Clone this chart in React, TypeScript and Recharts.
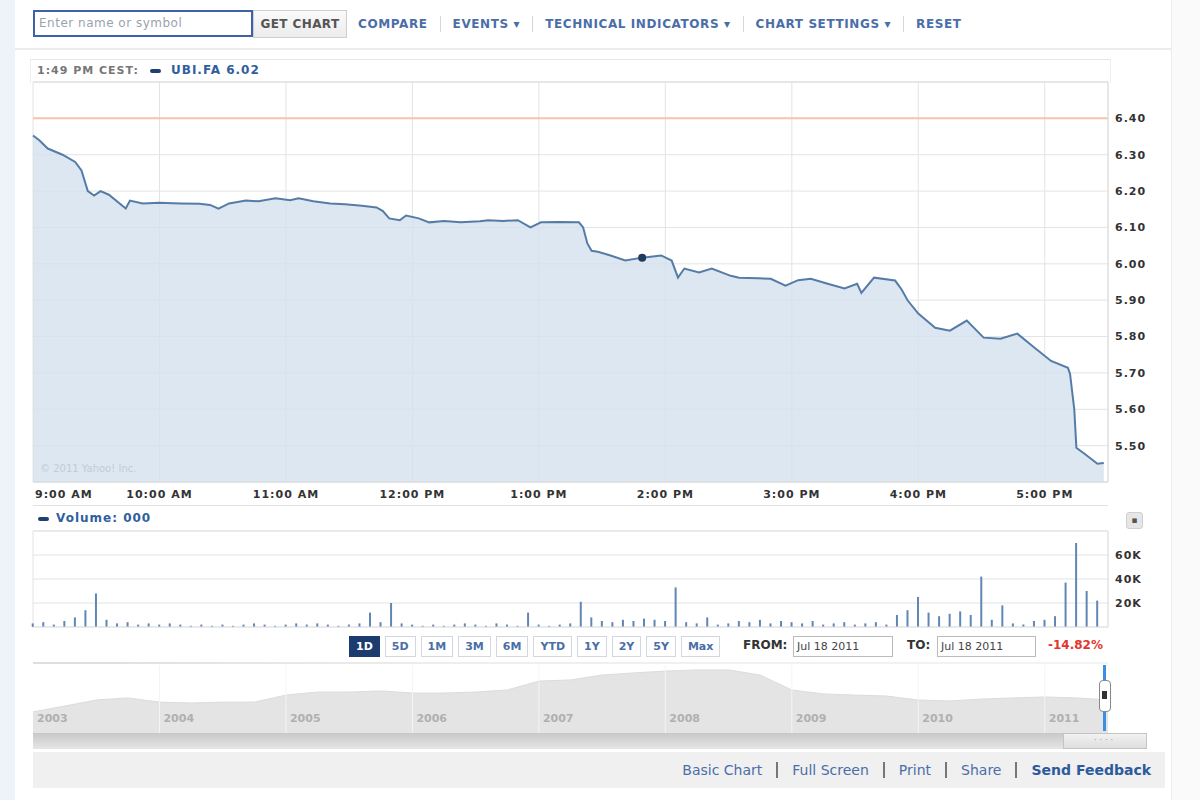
import {
  AreaChart,
  Area,
  BarChart,
  Bar,
  XAxis,
  YAxis,
  CartesianGrid,
  ReferenceLine,
} from "recharts";

// #region Data
// intraday price, minutes after 9:00 AM
const priceTimes = [
  0, 3, 7, 14, 20, 23, 26, 29, 32, 36, 44, 46, 52, 60, 70, 79, 84, 88, 93, 101,
  107, 115, 122, 126, 133, 141, 148, 156, 163, 166, 169, 174, 177, 183, 188,
  195, 203, 212, 216, 223, 230, 236, 241, 249, 259, 261, 263, 265, 268, 274,
  281, 289, 298, 303, 306, 309, 316, 322, 331, 335, 344, 350, 357, 363, 369,
  377, 385, 391, 393, 399, 409, 412, 415, 420, 428, 435, 443, 451, 459, 467,
  475, 483, 491, 492, 494, 495, 499, 505, 508,
];
const priceValues = [
  6.353, 6.34, 6.317, 6.3, 6.28, 6.257, 6.2, 6.188, 6.2, 6.19, 6.152, 6.174,
  6.166, 6.168, 6.166, 6.165, 6.162, 6.152, 6.166, 6.174, 6.172, 6.18, 6.175,
  6.18, 6.172, 6.166, 6.164, 6.16, 6.155, 6.145, 6.125, 6.12, 6.133, 6.125,
  6.114, 6.118, 6.114, 6.117, 6.12, 6.118, 6.12, 6.1, 6.114, 6.115, 6.114, 6.1,
  6.056, 6.036, 6.033, 6.023, 6.009, 6.017, 6.023, 6.009, 5.962, 5.987, 5.976,
  5.987, 5.967, 5.962, 5.96, 5.959, 5.94, 5.955, 5.959, 5.945, 5.932, 5.945,
  5.92, 5.962, 5.954, 5.93, 5.899, 5.863, 5.824, 5.816, 5.844, 5.797, 5.794,
  5.808, 5.77, 5.733, 5.714, 5.697, 5.6, 5.494, 5.477, 5.45, 5.452,
];
const priceTicks = [5.5, 5.6, 5.7, 5.8, 5.9, 6.0, 6.1, 6.2, 6.3, 6.4];
const previousClose = 6.4;
const hoverTime = 289;

const hourTicks = [0, 60, 120, 180, 240, 300, 360, 420, 480];
const hourLabels = [
  "9:00 AM",
  "10:00 AM",
  "11:00 AM",
  "12:00 PM",
  "1:00 PM",
  "2:00 PM",
  "3:00 PM",
  "4:00 PM",
  "5:00 PM",
];

// volume in thousands, 5-minute buckets
const volumeStep = 5;
const volumeValues = [
  3, 4, 2, 5, 8, 14, 28, 6, 3, 4, 2, 3,
  2, 3, 2, 1, 2, 1, 2, 1, 2, 3, 2, 1,
  2, 3, 2, 3, 2, 1, 2, 3, 12, 4, 20, 3,
  2, 1, 2, 1, 2, 3, 2, 1, 3, 2, 1, 12,
  2, 1, 2, 3, 21, 8, 5, 4, 6, 5, 7, 6,
  5, 33, 4, 3, 8, 2, 3, 5, 4, 6, 3, 5,
  4, 3, 5, 2, 3, 4, 2, 3, 4, 2, 10, 14,
  25, 12, 9, 11, 13, 10, 42, 6, 18, 3, 2, 5,
  6, 9, 37, 70, 30, 22,
];
const volumeTicks = [20, 40, 60];

// long-term navigator, quarterly from 2003
const navStart = 2003;
const navValues = [
  9.9, 12.4, 15.0, 15.9, 14.1, 13.7, 14.1, 14.1, 17.1, 18.4, 18.4, 18.9, 18.0,
  18.0, 18.4, 19.3, 23.1, 23.6, 25.7, 26.6, 27.4, 27.9, 27.9, 25.7, 19.3, 17.6,
  17.1, 16.7, 15.0, 14.6, 15.4, 15.9, 16.3, 15.9, 15.0,
];
const navYears = [2003, 2004, 2005, 2006, 2007, 2008, 2009, 2010, 2011];

const toolbarLinks = [
  "COMPARE",
  "EVENTS ▾",
  "TECHNICAL INDICATORS ▾",
  "CHART SETTINGS ▾",
  "RESET",
];
const rangeButtons = ["1D", "5D", "1M", "3M", "6M", "YTD", "1Y", "2Y", "5Y", "Max"];
const footerLinks = ["Basic Chart", "Full Screen", "Print", "Share", "Send Feedback"];
// #endregion

const FONT = '"DejaVu Sans", Verdana, sans-serif';
const LINK = "#4a6ea8";

const priceData = priceTimes.map((t, i) => ({ t, price: priceValues[i] }));
const volumeData = volumeValues.map((v, i) => ({ t: i * volumeStep, volume: v }));
const navData = navValues.map((v, i) => ({ year: navStart + i * 0.25, close: v }));

const HourTick = ({ x, y, payload }: any) => {
  const i = hourTicks.indexOf(payload.value);
  return (
    <text
      x={i === 0 ? x + 2 : x}
      y={y}
      dy="0.71em"
      textAnchor={i === 0 ? "start" : "middle"}
      fontFamily={FONT}
      fontSize={11}
      fontWeight="bold"
      letterSpacing={1}
      fill="#333"
    >
      {hourLabels[i]}
    </text>
  );
};

const axisText = {
  fontFamily: FONT,
  fontSize: 11,
  fontWeight: "bold",
  letterSpacing: 1,
  fill: "#333",
};

const HoverDot = (props: any) =>
  props.payload.t === hoverTime ? (
    <circle key={`dot-${props.index}`} cx={props.cx} cy={props.cy} r={4} fill="#1f3a5c" />
  ) : (
    <g key={`dot-${props.index}`} />
  );

const abs = (left: number, top: number, extra: React.CSSProperties = {}): React.CSSProperties => ({
  position: "absolute",
  left,
  top,
  ...extra,
});

export default function App() {
  return (
    <div
      style={{
        position: "absolute",
        left: 0,
        top: 0,
        width: 1200,
        height: 800,
        background: "#fff",
        overflow: "hidden",
        fontFamily: FONT,
      }}
    >
      {/* page edges */}
      <div style={abs(0, 0, { width: 15, height: 800, background: "#eef2f9" })} />
      <div style={abs(1171, 0, { width: 29, height: 800, background: "#fafafa", borderLeft: "1px solid #ececec" })} />

      {/* toolbar */}
      <div
        style={abs(33, 10, {
          width: 212,
          height: 23,
          border: "2px solid #3d62a9",
          fontSize: 12,
          letterSpacing: 0.5,
          color: "#9aa3ad",
          lineHeight: "23px",
          paddingLeft: 4,
          boxSizing: "content-box",
        })}
      >
        Enter name or symbol
      </div>
      <div
        style={abs(253, 10, {
          width: 92,
          height: 26,
          border: "1px solid #cfcfcf",
          background: "linear-gradient(#fafafa,#ececec)",
          fontSize: 12,
          letterSpacing: 0.4,
          fontWeight: "bold",
          color: "#555",
          lineHeight: "26px",
          textAlign: "center",
        })}
      >
        GET CHART
      </div>
      <div
        style={abs(358, 16, {
          display: "flex",
          alignItems: "center",
          fontSize: 12,
          letterSpacing: 0.6,
          fontWeight: "bold",
          color: LINK,
          whiteSpace: "nowrap",
        })}
      >
        {toolbarLinks.map((l, i) => (
          <span key={l} style={{ display: "flex", alignItems: "center" }}>
            <span>{l}</span>
            {i < toolbarLinks.length - 1 && (
              <span style={{ width: 1, height: 16, background: "#d6d6d6", margin: "0 12px" }} />
            )}
          </span>
        ))}
      </div>
      <div style={abs(15, 48, { width: 1156, height: 2, background: "#ececec" })} />

      {/* price header */}
      <div style={abs(30, 59, { width: 1079, height: 23, borderTop: "1px solid #e6e6e6", borderLeft: "1px solid #eee", borderRight: "1px solid #eee" })} />
      <div style={abs(37, 64, { fontSize: 11, letterSpacing: 1, color: "#777", fontWeight: "bold" })}>1:49 PM CEST:</div>
      <div style={abs(150, 69, { width: 11, height: 4, background: "#1f3f75", borderRadius: 2 })} />
      <div style={abs(171, 63, { fontSize: 12, letterSpacing: 1, color: "#2f5e9e", fontWeight: "bold" })}>UBI.FA 6.02</div>

      {/* price chart */}
      <div style={abs(0, 0)}>
        <AreaChart
          width={1170}
          height={520}
          data={priceData}
          margin={{ top: 82, right: 12, left: 33, bottom: 14 }}
        >
          <CartesianGrid stroke="#e3e3e3" />
          <XAxis
            dataKey="t"
            type="number"
            domain={[0, 510]}
            ticks={hourTicks}
            tick={<HourTick />}
            tickLine={false}
            axisLine={{ stroke: "#d8d8d8" }}
            height={24}
          />
          <YAxis
            orientation="right"
            type="number"
            domain={[5.4, 6.5]}
            ticks={priceTicks}
            tickFormatter={(v: number) => v.toFixed(2)}
            tick={axisText}
            tickLine={false}
            tickSize={0}
            tickMargin={7}
            axisLine={{ stroke: "#dcdcdc" }}
            width={50}
          />
          <ReferenceLine y={6.5} stroke="#dcdcdc" />
          <Area
            type="linear"
            dataKey="price"
            stroke="#557ca6"
            strokeWidth={2}
            fill="#d3e1ee"
            fillOpacity={0.8}
            dot={HoverDot}
            activeDot={false}
            isAnimationActive={false}
          />
          <ReferenceLine y={previousClose} stroke="#f6c4ae" strokeWidth={2} />
        </AreaChart>
      </div>
      <div style={abs(40, 463, { fontSize: 10, color: "#c2ccd6" })}>© 2011 Yahoo! Inc.</div>
      <div style={abs(33, 505, { width: 1075, height: 1, background: "#e2e2e2" })} />

      {/* volume header */}
      <div style={abs(38, 517, { width: 11, height: 4, background: "#1f3f75", borderRadius: 2 })} />
      <div style={abs(56, 511, { fontSize: 12, letterSpacing: 1, color: "#2f5e9e", fontWeight: "bold" })}>Volume: 000</div>
      <div
        style={abs(1126, 512, {
          width: 15,
          height: 15,
          background: "#e6e6e6",
          border: "1px solid #d0d0d0",
          borderRadius: 3,
          fontSize: 9,
          color: "#555",
          textAlign: "center",
          lineHeight: "15px",
        })}
      >
        ▪
      </div>

      {/* volume chart */}
      <div style={abs(0, 520)}>
        <BarChart
          width={1170}
          height={120}
          data={volumeData}
          margin={{ top: 11, right: 12, left: 33, bottom: 12 }}
        >
          <CartesianGrid stroke="#e3e3e3" />
          <XAxis
            dataKey="t"
            type="number"
            domain={[0, 510]}
            ticks={hourTicks}
            tick={false}
            tickLine={false}
            axisLine={{ stroke: "#e3e3e3" }}
            height={1}
          />
          <YAxis
            orientation="right"
            type="number"
            domain={[0, 80]}
            ticks={volumeTicks}
            tickFormatter={(v: number) => `${v}K`}
            tick={axisText}
            tickLine={false}
            tickSize={0}
            tickMargin={7}
            axisLine={{ stroke: "#e3e3e3" }}
            width={50}
          />
          <ReferenceLine y={80} stroke="#e3e3e3" />
          <Bar dataKey="volume" fill="#5f86b5" barSize={2} isAnimationActive={false} />
        </BarChart>
      </div>

      {/* range buttons */}
      <div style={abs(349, 636, { display: "flex", gap: 5 })}>
        {rangeButtons.map((b, i) => (
          <div
            key={b}
            style={{
              height: 19,
              padding: "0 6px",
              border: i === 0 ? "1px solid #1c3c70" : "1px solid #d3d8e0",
              background: i === 0 ? "#1c3c70" : "#fff",
              color: i === 0 ? "#fff" : LINK,
              fontSize: 11,
              fontWeight: "bold",
              lineHeight: "19px",
            }}
          >
            {b}
          </div>
        ))}
      </div>
      <div style={abs(743, 638, { fontSize: 12, fontWeight: "bold", color: "#333" })}>FROM:</div>
      <div style={abs(793, 636, { width: 95, height: 19, border: "1px solid #bbb", fontSize: 11, color: "#444", lineHeight: "19px", paddingLeft: 3 })}>
        Jul 18 2011
      </div>
      <div style={abs(907, 638, { fontSize: 12, fontWeight: "bold", color: "#333" })}>TO:</div>
      <div style={abs(937, 636, { width: 94, height: 19, border: "1px solid #bbb", fontSize: 11, color: "#444", lineHeight: "19px", paddingLeft: 3 })}>
        Jul 18 2011
      </div>
      <div style={abs(1048, 638, { fontSize: 12, fontWeight: "bold", color: "#e2362c" })}>-14.82%</div>

      {/* navigator */}
      <div style={abs(33, 662, { width: 1075, height: 2, background: "linear-gradient(90deg,#ddd,#eee 40%,#f4f4f4)" })} />
      <div style={abs(0, 660)}>
        <AreaChart
          width={1170}
          height={80}
          data={navData}
          margin={{ top: 5, right: 62, left: 33, bottom: 5 }}
        >
          <XAxis dataKey="year" type="number" domain={[2003, 2011.5]} hide />
          <YAxis type="number" domain={[0, 30]} hide />
          <Area
            type="linear"
            dataKey="close"
            stroke="#dcdcdc"
            fill="#e4e4e4"
            fillOpacity={1}
            isAnimationActive={false}
          />
          {navYears.map((y) => (
            <ReferenceLine
              key={y}
              x={y}
              stroke={y === 2003 ? "none" : "#f4f4f4"}
              label={(p: any) => (
                <text
                  x={p.viewBox.x + 4}
                  y={p.viewBox.y + p.viewBox.height - 13}
                  fontFamily={FONT}
                  fontSize={11}
                  fontWeight="bold"
                  fill="#b0b0b0"
                >
                  {y}
                </text>
              )}
            />
          ))}
        </AreaChart>
      </div>
      {/* navigator handle */}
      <div style={abs(1103, 665, { width: 3, height: 66, background: "#3b8fe0" })} />
      <div style={abs(1099, 680, { width: 10, height: 30, background: "#fff", border: "1px solid #888", borderRadius: 4 })} />
      <div style={abs(1102, 691, { width: 5, height: 8, background: "#333" })} />

      {/* scrollbar */}
      <div style={abs(33, 733, { width: 1112, height: 16, background: "linear-gradient(#c8c8c8,#e6e6e6)" })} />
      <div
        style={abs(1063, 733, {
          width: 82,
          height: 14,
          background: "linear-gradient(#f2f2f2,#dedede)",
          border: "1px solid #c4c4c4",
          fontSize: 8,
          color: "#999",
          textAlign: "center",
          lineHeight: "14px",
          letterSpacing: 3,
        })}
      >
        ····
      </div>

      {/* footer */}
      <div
        style={abs(33, 752, {
          width: 1132,
          height: 36,
          background: "#f0f0f0",
          display: "flex",
          justifyContent: "flex-end",
          alignItems: "center",
          fontSize: 14,
          color: LINK,
        })}
      >
        {footerLinks.map((l, i) => (
          <span key={l} style={{ display: "flex", alignItems: "center" }}>
            <span style={i === footerLinks.length - 1 ? { color: "#2d5a9c", fontWeight: "bold" } : {}}>{l}</span>
            {i < footerLinks.length - 1 && (
              <span style={{ width: 2, height: 16, background: "#777", margin: "0 14px" }} />
            )}
          </span>
        ))}
        <span style={{ width: 14 }} />
      </div>
    </div>
  );
}
